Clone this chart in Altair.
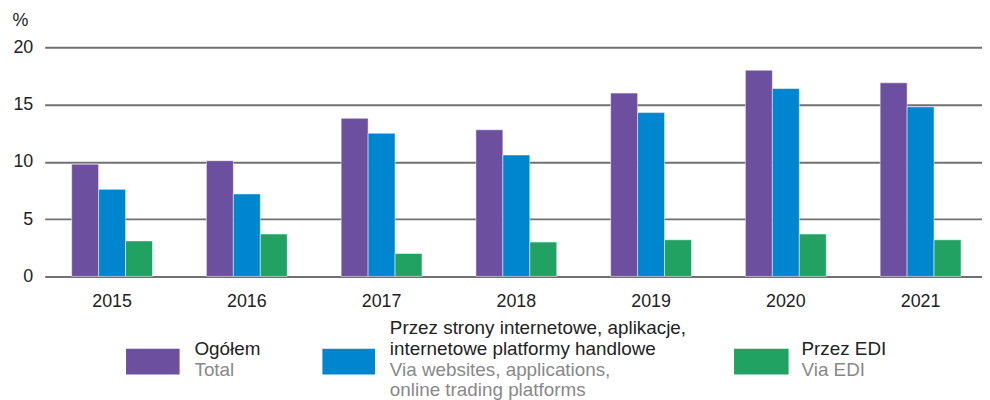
import altair as alt
import pandas as pd

years = ["2015", "2016", "2017", "2018", "2019", "2020", "2021"]
series = ["Ogółem", "Przez strony", "Przez EDI"]
total = [9.8, 10.1, 13.8, 12.8, 16.0, 18.0, 16.9]
websites = [7.6, 7.2, 12.5, 10.6, 14.3, 16.4, 14.8]
edi = [3.1, 3.7, 2.0, 3.0, 3.2, 3.7, 3.2]
colors = ["#6C4F9F", "#0086CE", "#22A262"]

rows = []
for i, y in enumerate(years):
    for s, vals in zip(series, [total, websites, edi]):
        rows.append({"year": y, "series": s, "value": vals[i]})
df = pd.DataFrame(rows)

FONT = "Liberation Sans, Arial, sans-serif"

bars = alt.Chart(df).mark_bar(stroke="#ffffff", strokeWidth=1, strokeOpacity=0.5).encode(
    x=alt.X("year:N", sort=years,
            scale=alt.Scale(paddingInner=0.4, paddingOuter=0.2),
            axis=alt.Axis(title=None, labelAngle=0, domain=False, ticks=False,
                          labelPadding=16, labelFontSize=18, labelColor="#222222",
                          labelFont=FONT)),
    xOffset=alt.XOffset("series:N", sort=series, scale=alt.Scale(paddingInner=0, paddingOuter=0)),
    y=alt.Y("value:Q", scale=alt.Scale(domain=[0, 20], nice=False),
            axis=alt.Axis(values=[0, 5, 10, 15, 20], title="%", titleAngle=0,
                          titleX=-25, titleY=-27, titleAlign="center", titleBaseline="middle",
                          titleFontSize=18, titleFontWeight="normal", titleColor="#222222",
                          titleFont=FONT,
                          domain=False, ticks=False, labelPadding=12, labelFontSize=18,
                          labelColor="#222222", labelFont=FONT,
                          grid=True, gridColor="#707070", gridWidth=2)),
    color=alt.Color("series:N", sort=series, scale=alt.Scale(domain=series, range=colors), legend=None),
)

one = alt.Data(values=[{"a": 1}])

def rect(x1, x2, y1, y2, c):
    return alt.Chart(one).mark_rect(color=c).encode(
        x=alt.value(x1), x2=alt.value(x2), y=alt.value(y1), y2=alt.value(y2))

def txt(x, y, t, c, lh=21):
    return alt.Chart(one).mark_text(text=t, align="left", baseline="middle", fontSize=19,
                                    font=FONT, color=c, lineHeight=lh).encode(
        x=alt.value(x), y=alt.value(y))

legend = [
    rect(82, 136, 304, 330, colors[0]),
    txt(151, 304, "Ogółem", "#222222"),
    txt(151, 325, "Total", "#888888"),
    rect(280, 333, 304, 330, colors[1]),
    txt(348, 283, ["Przez strony internetowe, aplikacje,", "internetowe platformy handlowe"], "#222222"),
    txt(348, 325, ["Via websites, applications,", "online trading platforms"], "#888888"),
    rect(695, 750, 304, 330, colors[2]),
    txt(763, 304, "Przez EDI", "#222222"),
    txt(763, 325, "Via EDI", "#888888"),
]

chart = alt.layer(bars, *legend).properties(
    width=951, height=231,
    autosize=alt.AutoSizeParams(type="none"),
    padding={"left": 37, "top": 38, "right": -6, "bottom": 123},
).configure_view(stroke=None)

chart.save("out.html", embed_options={"renderer": "svg", "actions": False})
